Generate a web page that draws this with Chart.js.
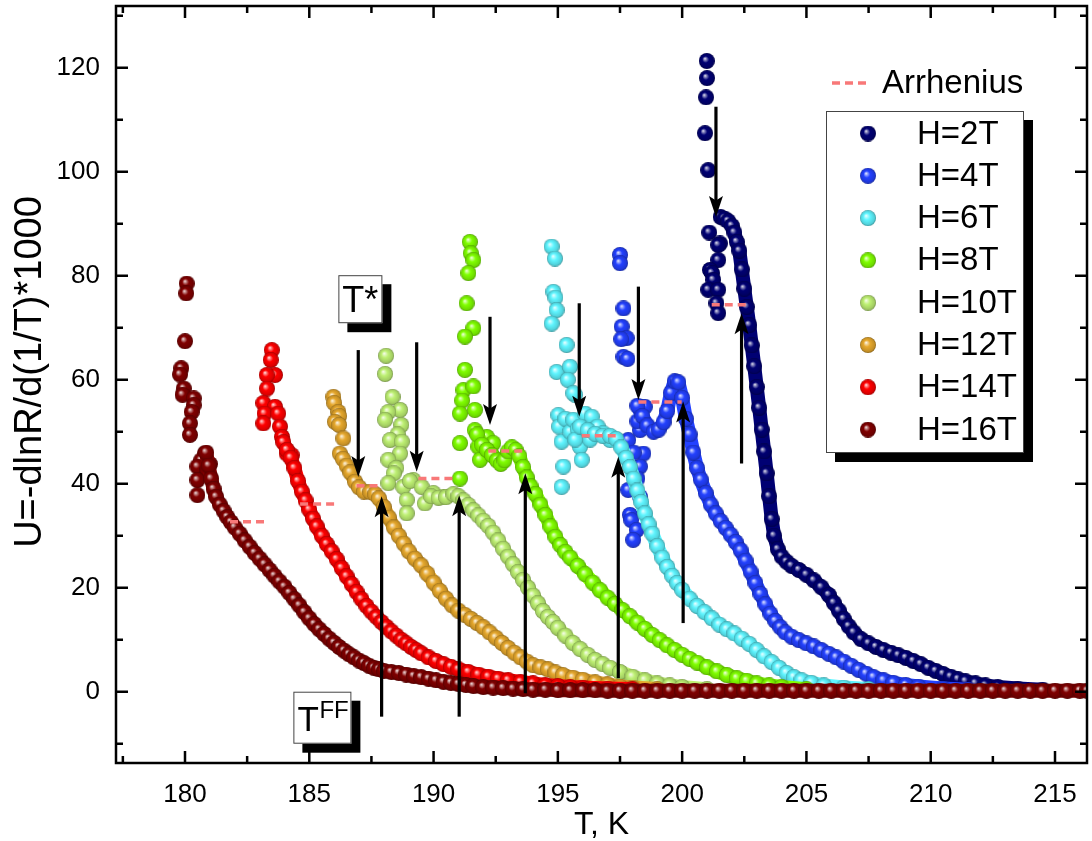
<!DOCTYPE html>
<html>
<head>
<meta charset="utf-8">
<script src="https://cdn.jsdelivr.net/npm/chart.js@4.4.1/dist/chart.umd.min.js"></script>
<style>html,body{margin:0;background:#fff}</style>
</head>
<body>
<canvas id="chart" width="1092" height="841"></canvas>
<script>
const FONT = '"Liberation Sans", Arial, sans-serif';

// axis ticks
const xTicks = [180, 185, 190, 195, 200, 205, 210, 215];
const xMinor = [177.5, 182.5, 187.5, 192.5, 197.5, 202.5, 207.5, 212.5];
const yTicks = [0, 20, 40, 60, 80, 100, 120];
const yMinor = [-10, 10, 30, 50, 70, 90, 110, 130];
const yTitle = 'U=-dlnR/d(1/T)*1000';

// H=2T  (T, U) pairs: smooth branch and scattered low-T points
const h2 = [[201.55,91.3],[201.7,91.0],[201.85,90.5],[202.0,89.6],[202.1,88.3],[202.2,86.5],[202.3,84.8],[202.4,81.2],[202.5,77.5],[202.6,74.0],[202.7,70.5],[202.8,66.6],[202.9,62.6],[203.0,58.6],[203.1,54.6],[203.2,50.4],[203.3,46.2],[203.4,42.0],[203.5,37.6],[203.6,33.2],[203.7,30.0],[203.85,27.4],[204.0,26.0],[204.2,25.0],[204.4,24.2],[204.7,23.4],[205.0,22.5],[205.3,21.4],[205.6,20.1],[205.9,18.6],[206.1,17.1],[206.3,15.6],[206.5,14.0],[206.7,12.6],[206.9,11.4],[207.2,10.1],[207.5,9.3],[207.8,8.6],[208.1,8.0],[208.4,7.5],[208.7,7.0],[209.0,6.5],[209.3,5.9],[209.6,5.3],[209.9,4.6],[210.2,4.0],[210.5,3.4],[210.8,2.9],[211.1,2.4],[211.4,2.0],[211.8,1.6],[212.2,1.2],[212.7,0.9],[213.5,0.6],[214.5,0.4]];
const h2n = [[200.99,121.3],[201.0,118.0],[200.96,114.3],[200.92,107.4],[201.05,100.3],[201.09,88.3],[201.52,86.2],[201.45,85.9],[201.45,83.0],[201.12,81.1],[201.2,80.5],[201.25,79.2],[201.05,77.3],[201.45,77.3],[201.38,74.7],[201.45,72.8]];

// H=4T
const h4 = [[198.2,55.0],[198.4,53.0],[198.6,51.2],[198.85,50.0],[199.05,50.4],[199.25,51.8],[199.4,54.0],[199.55,57.5],[199.7,59.7],[199.85,59.5],[200.0,56.5],[200.15,52.5],[200.3,49.5],[200.45,46.0],[200.6,43.0],[200.75,40.8],[200.95,38.2],[201.15,36.0],[201.35,34.3],[201.55,32.8],[201.75,31.5],[201.95,30.2],[202.15,28.8],[202.35,27.2],[202.55,25.2],[202.75,23.1],[202.95,20.9],[203.15,18.8],[203.35,16.8],[203.55,15.0],[203.75,13.6],[203.95,12.4],[204.15,11.4],[204.4,10.6],[204.7,9.9],[205.0,9.3],[205.3,8.7],[205.6,8.0],[205.9,7.3],[206.2,6.6],[206.5,5.8],[206.8,5.0],[207.1,4.2],[207.4,3.5],[207.7,2.8],[208.1,2.2],[208.5,1.7],[209.0,1.3],[209.5,1.0],[210.5,0.6],[211.5,0.4]];
const h4n = [[197.5,84.0],[197.5,82.4],[197.64,73.7],[197.57,70.2],[197.77,68.0],[197.55,67.8],[197.64,64.4],[197.8,64.0],[197.83,48.4],[198.3,50.3],[198.44,45.8],[198.3,43.3],[198.2,41.0],[198.05,46.0],[198.2,52.0],[198.35,54.8],[198.5,54.8],[197.83,38.8],[198.3,37.5],[197.9,34.0],[197.95,33.0],[198.17,31.1],[198.03,29.2]];

// H=6T
const h6 = [[195.9,51.0],[196.2,50.3],[196.5,49.6],[196.8,49.2],[197.1,49.2],[197.35,48.6],[197.55,47.0],[197.75,45.0],[197.9,43.2],[198.05,41.0],[198.2,38.7],[198.35,36.5],[198.5,34.3],[198.65,32.2],[198.8,30.4],[199.0,28.0],[199.2,25.8],[199.4,24.0],[199.6,22.3],[199.8,20.9],[200.0,19.6],[200.3,17.9],[200.6,16.5],[200.9,15.3],[201.2,14.1],[201.5,12.9],[201.8,12.0],[202.1,11.2],[202.4,10.2],[202.7,9.2],[203.0,8.0],[203.3,6.8],[203.6,5.7],[203.9,4.6],[204.2,3.6],[204.5,2.8],[204.8,2.2],[205.2,1.7],[205.7,1.2],[206.5,0.8],[207.5,0.5]];
const h6n = [[194.75,85.6],[194.88,83.3],[194.82,76.9],[194.9,75.8],[194.95,73.4],[194.75,70.8],[195.35,66.7],[194.95,61.5],[195.49,62.5],[195.4,60.0],[195.69,57.1],[195.62,57.4],[195.02,53.2],[195.05,51.0],[195.15,48.1],[195.3,52.5],[195.5,50.0],[195.62,52.3],[196.09,53.5],[196.36,52.9],[195.8,50.5],[195.89,47.1],[195.7,48.5],[196.3,48.5],[195.96,44.6],[195.22,43.3],[195.15,39.4],[196.6,51.0],[196.83,49.7],[197.1,48.4]];

// H=8T
const h8 = [[191.75,49.5],[191.95,47.5],[192.15,46.5],[192.35,45.5],[192.55,44.5],[192.7,43.8],[192.85,44.5],[193.0,46.2],[193.15,47.0],[193.3,46.5],[193.45,45.3],[193.6,43.2],[193.75,41.2],[193.9,39.5],[194.1,38.0],[194.3,36.0],[194.5,34.0],[194.7,31.8],[194.9,29.8],[195.1,28.2],[195.3,26.9],[195.5,25.8],[195.8,24.2],[196.1,22.6],[196.4,21.0],[196.7,19.5],[197.0,18.1],[197.3,16.9],[197.6,15.7],[197.9,14.5],[198.2,13.3],[198.5,12.1],[198.8,10.9],[199.1,9.9],[199.4,8.9],[199.7,8.0],[200.0,7.1],[200.3,6.3],[200.6,5.6],[201.0,4.7],[201.4,3.9],[201.8,3.2],[202.2,2.6],[202.6,2.1],[203.0,1.6],[203.5,1.2],[204.0,0.9],[205.0,0.5]];
const h8n = [[191.46,86.5],[191.5,84.3],[191.6,83.0],[191.4,80.5],[191.33,74.7],[191.6,69.9],[191.26,68.3],[191.26,61.9],[191.2,58.0],[191.6,58.7],[191.15,56.0],[191.06,53.5],[191.66,54.2],[191.06,47.8],[191.06,41.0],[191.66,50.3],[191.8,47.1],[191.87,44.6],[192.14,49.0],[192.4,47.8]];

// H=10T
const h10 = [[189.9,37.6],[190.2,37.3],[190.5,37.4],[190.8,38.0],[191.0,37.6],[191.2,36.8],[191.4,35.9],[191.6,34.9],[191.8,33.9],[192.0,32.9],[192.2,31.9],[192.4,30.6],[192.6,29.1],[192.8,27.5],[193.0,26.0],[193.2,24.5],[193.4,23.0],[193.6,21.5],[193.8,20.0],[194.0,18.5],[194.2,17.0],[194.4,15.5],[194.6,14.4],[194.8,13.4],[195.0,12.3],[195.3,10.8],[195.6,9.4],[195.9,8.2],[196.2,7.1],[196.5,6.1],[196.8,5.3],[197.1,4.6],[197.5,3.8],[198.0,2.9],[198.5,2.2],[199.0,1.6],[199.5,1.2],[200.0,0.9],[201.0,0.5]];
const h10n = [[188.09,64.6],[188.05,61.1],[188.35,56.7],[188.65,54.2],[188.18,53.8],[188.05,52.3],[188.7,51.3],[188.55,49.5],[188.25,48.4],[188.72,48.1],[188.65,45.8],[188.18,44.6],[188.5,43.0],[188.4,42.0],[188.18,40.1],[188.78,39.4],[189.18,40.7],[189.05,40.5],[188.92,36.9],[188.92,34.3],[189.52,39.4],[189.65,36.2],[189.99,38.2],[190.39,37.5]];

// H=12T
const h12 = [[186.23,45.8],[186.35,44.8],[186.5,43.5],[186.65,42.2],[186.84,40.4],[187.0,39.3],[187.2,38.5],[187.45,38.4],[187.65,38.0],[187.8,37.2],[188.0,35.5],[188.2,33.5],[188.4,31.6],[188.6,30.0],[188.8,28.5],[189.0,27.0],[189.25,25.6],[189.5,24.3],[189.75,22.7],[190.0,21.0],[190.25,19.4],[190.5,17.9],[190.75,16.6],[191.0,15.6],[191.25,14.8],[191.5,14.0],[191.75,13.2],[192.0,12.4],[192.25,11.4],[192.5,10.4],[192.75,9.4],[193.0,8.4],[193.25,7.5],[193.5,6.6],[193.75,5.8],[194.0,5.1],[194.3,4.7],[194.6,4.3],[194.9,3.7],[195.2,3.2],[195.6,2.7],[196.0,2.3],[196.5,1.8],[197.0,1.4],[197.5,1.0],[198.0,0.8],[199.0,0.5]];
const h12n = [[185.97,56.7],[186.0,55.5],[186.17,53.8],[186.2,53.0],[186.03,51.9],[186.2,51.3],[186.37,48.7]];

// H=14T
const h14 = [[183.95,48.0],[184.1,46.5],[184.25,45.0],[184.4,43.0],[184.55,40.5],[184.7,38.5],[184.85,36.8],[185.0,35.0],[185.15,33.3],[185.3,31.8],[185.5,30.0],[185.7,28.4],[185.9,27.0],[186.1,25.5],[186.3,23.8],[186.5,22.2],[186.7,20.7],[186.9,19.2],[187.1,17.8],[187.3,16.5],[187.5,15.4],[187.7,14.4],[187.9,13.4],[188.1,12.5],[188.3,11.6],[188.5,10.8],[188.7,10.0],[188.9,9.3],[189.1,8.6],[189.3,8.0],[189.5,7.4],[189.8,6.6],[190.1,5.9],[190.4,5.3],[190.7,4.8],[191.0,4.3],[191.4,3.8],[191.8,3.3],[192.2,2.9],[192.6,2.5],[193.0,2.2],[193.5,1.9],[194.0,1.6],[194.5,1.3],[195.0,1.1],[195.5,0.9],[196.0,0.8],[197.0,0.6],[198.0,0.5]];
const h14n = [[183.49,65.7],[183.45,63.8],[183.62,60.9],[183.29,60.9],[183.3,58.3],[183.15,55.5],[183.62,54.8],[183.2,53.5],[183.75,53.5],[183.15,51.6],[183.82,51.0],[183.9,49.0],[184.09,45.8],[184.29,45.5]];

// H=16T
const h16 = [[180.85,46.0],[180.95,43.5],[181.05,41.0],[181.15,39.0],[181.25,37.5],[181.4,36.0],[181.55,34.8],[181.7,33.6],[181.85,32.6],[182.0,31.6],[182.2,30.4],[182.4,29.1],[182.6,27.9],[182.8,26.7],[183.0,25.6],[183.2,24.5],[183.4,23.4],[183.6,22.3],[183.8,21.2],[184.0,20.2],[184.2,19.0],[184.4,17.8],[184.6,16.6],[184.8,15.3],[185.0,14.1],[185.2,13.0],[185.4,12.0],[185.6,11.1],[185.8,10.2],[186.0,9.4],[186.2,8.6],[186.4,7.9],[186.6,7.2],[186.8,6.6],[187.0,6.0],[187.2,5.5],[187.4,5.0],[187.6,4.6],[187.8,4.3],[188.0,4.0],[188.3,3.8],[188.6,3.6],[188.9,3.3],[189.2,3.0],[189.5,2.8],[189.8,2.5],[190.1,2.2],[190.4,1.9],[190.7,1.7],[191.0,1.5],[191.3,1.3],[191.6,1.1],[192.0,0.9],[192.4,0.8],[192.8,0.7],[193.2,0.6],[193.6,0.5],[194.0,0.4],[194.5,0.4],[195.0,0.3],[195.5,0.3],[196.0,0.3],[196.5,0.3],[197.0,0.2],[197.5,0.2],[198.0,0.2],[198.5,0.2],[199.0,0.2],[199.5,0.2],[200.0,0.2],[200.5,0.2],[201.0,0.2],[201.5,0.2],[202.0,0.2],[202.5,0.2],[203.0,0.2],[203.5,0.2],[204.0,0.2],[204.5,0.2],[205.0,0.2],[205.5,0.2],[206.0,0.2],[206.5,0.2],[207.0,0.2],[207.5,0.2],[208.0,0.2],[208.5,0.2],[209.0,0.2],[209.5,0.2],[210.0,0.2],[210.5,0.2],[211.0,0.2],[211.5,0.2],[212.0,0.2],[212.5,0.2],[213.0,0.2],[213.5,0.2],[214.0,0.2],[214.5,0.2],[215.0,0.2],[215.5,0.2],[216.0,0.2],[216.3,0.2]];
const h16n = [[180.07,78.5],[180.05,76.6],[180.0,67.4],[179.85,62.2],[179.8,61.0],[179.95,58.3],[179.9,57.1],[180.35,56.4],[180.35,55.1],[180.27,53.8],[180.2,51.6],[180.2,49.4],[180.8,45.8],[180.65,44.5],[180.5,43.3],[181.0,43.8],[180.9,42.5],[180.5,40.7],[180.5,37.8]];

// Arrhenius fits: [T from, T to, U]
const arrhenius = [[181.81,183.29,32.7],[184.63,186.03,36.1],[186.9,187.9,39.6],[189.39,190.87,41.0],[192.2,193.72,46.3],[195.96,197.43,49.2],[198.24,199.98,55.7],[201.19,202.73,74.4]];
// T* arrows (from above): [T, U start, U tip];  T^FF arrows (from below)
const tStar = [[186.97,65.7,41.3],[189.32,67.2,42.3],[192.27,72.1,51.3],[195.86,74.7,52.9],[198.24,77.9,56.1],[201.36,112.5,91.3]];
const tFF = [[187.91,-4.8,37.6],[191.03,-4.8,37.8],[193.69,-0.3,42.0],[197.43,2.6,45.2],[200.04,13.2,55.8],[202.39,43.9,72.8]];

const fields = [
  {label: 'H=2T',  color: [0, 0, 115],     smooth: h2,  noisy: h2n},
  {label: 'H=4T',  color: [35, 65, 255],   smooth: h4,  noisy: h4n},
  {label: 'H=6T',  color: [95, 245, 255],  smooth: h6,  noisy: h6n},
  {label: 'H=8T',  color: [128, 255, 0],   smooth: h8,  noisy: h8n},
  {label: 'H=10T', color: [190, 240, 115], smooth: h10, noisy: h10n},
  {label: 'H=12T', color: [230, 168, 45],  smooth: h12, noisy: h12n},
  {label: 'H=14T', color: [255, 0, 0],     smooth: h14, noisy: h14n},
  {label: 'H=16T', color: [128, 0, 0],     smooth: h16, noisy: h16n}
];

function rgb(c, f) {
  f = f === undefined ? 1 : f;
  return 'rgb(' + c.map(v => Math.round(v * f)).join(',') + ')';
}
function tint(c, t) {
  return 'rgb(' + c.map(v => Math.round(v + (255 - v) * t)).join(',') + ')';
}

// shaded ball used as point style
function ball(c) {
  const cv = document.createElement('canvas');
  cv.width = 16; cv.height = 16;
  const g = cv.getContext('2d');
  const grad = g.createRadialGradient(6, 5.5, 0, 8, 8, 8);
  grad.addColorStop(0, tint(c, 0.95));
  grad.addColorStop(0.16, tint(c, 0.55));
  grad.addColorStop(0.42, rgb(c));
  grad.addColorStop(0.85, rgb(c, 0.85));
  grad.addColorStop(1, rgb(c, 0.6));
  g.fillStyle = grad;
  g.beginPath();
  g.arc(8, 8, 8, 0, Math.PI * 2);
  g.fill();
  return cv;
}

const toXY = arr => arr.map(p => ({x: p[0], y: p[1]}));
const datasets = [];
fields.forEach((f, i) => {
  f.img = ball(f.color);
  datasets.push({
    label: f.label, data: toXY(f.smooth), showLine: true,
    borderColor: rgb(f.color), borderWidth: 14,
    borderJoinStyle: 'round', borderCapStyle: 'round',
    pointStyle: f.img, pointRadius: 7, order: 8 - i, clip: 0
  });
  datasets.push({
    label: f.label, data: toXY(f.noisy), showLine: false,
    pointStyle: f.img, pointRadius: 7, order: 8 - i, clip: 0
  });
});
arrhenius.forEach(a => {
  datasets.push({
    label: 'Arrhenius', data: [{x: a[0], y: a[2]}, {x: a[1], y: a[2]}],
    showLine: true, borderColor: '#f87878', borderWidth: 3.5,
    borderDash: [8, 5], pointRadius: 0, order: 0
  });
});

function arrow(ctx, px, y0, y1) {
  const dir = Math.sign(y1 - y0), head = 21, hw = 7;
  ctx.beginPath();
  ctx.moveTo(px, y0);
  ctx.lineTo(px, y1 - dir * head * 0.7);
  ctx.stroke();
  ctx.beginPath();
  ctx.moveTo(px, y1);
  ctx.lineTo(px - hw, y1 - dir * head);
  ctx.lineTo(px, y1 - dir * head * 0.78);
  ctx.lineTo(px + hw, y1 - dir * head);
  ctx.closePath();
  ctx.fill();
}

function shadowBox(ctx, x, y, w, h, off) {
  ctx.fillStyle = '#000';
  ctx.fillRect(x + off, y + off, w, h);
  ctx.fillStyle = '#fff';
  ctx.fillRect(x, y, w, h);
  ctx.strokeStyle = '#444';
  ctx.lineWidth = 1;
  ctx.strokeRect(x + 0.5, y + 0.5, w - 1, h - 1);
}

const decorations = {
  id: 'decorations',
  afterDatasetsDraw(chart) {
    const {ctx, chartArea: a, scales: {x, y}} = chart;
    ctx.save();
    // arrows
    ctx.strokeStyle = '#000';
    ctx.fillStyle = '#000';
    ctx.lineWidth = 3.2;
    tStar.concat(tFF).forEach(r => arrow(ctx, x.getPixelForValue(r[0]), y.getPixelForValue(r[1]), y.getPixelForValue(r[2])));

    // frame + inward ticks on all sides
    ctx.lineWidth = 2.5;
    ctx.strokeStyle = '#000';
    ctx.beginPath();
    const tick = (vals, len, horiz) => vals.forEach(v => {
      if (horiz) {
        const px = x.getPixelForValue(v);
        ctx.moveTo(px, a.bottom); ctx.lineTo(px, a.bottom - len);
        ctx.moveTo(px, a.top); ctx.lineTo(px, a.top + len);
      } else {
        const py = y.getPixelForValue(v);
        ctx.moveTo(a.left, py); ctx.lineTo(a.left + len, py);
        ctx.moveTo(a.right, py); ctx.lineTo(a.right - len, py);
      }
    });
    tick(xTicks, 12, true); tick(xMinor, 7, true);
    tick(yTicks, 12, false); tick(yMinor, 7, false);
    ctx.stroke();
    ctx.strokeRect(a.left, a.top, a.right - a.left, a.bottom - a.top);

    // y axis title
    ctx.save();
    ctx.translate(31, 372);
    ctx.rotate(-Math.PI / 2);
    ctx.fillStyle = '#000';
    ctx.font = '38px ' + FONT;
    ctx.textAlign = 'center';
    ctx.textBaseline = 'middle';
    ctx.fillText(yTitle, 0, 0);
    ctx.restore();

    // T* label
    let bx = x.getPixelForValue(186.17), by = y.getPixelForValue(80.1);
    shadowBox(ctx, bx, by, 44, 48, 9);
    ctx.fillStyle = '#000';
    ctx.textBaseline = 'alphabetic';
    ctx.textAlign = 'left';
    ctx.font = '36px ' + FONT;
    ctx.fillText('T*', bx + 4, by + 37);

    // T^FF label
    bx = x.getPixelForValue(184.36); by = y.getPixelForValue(0);
    shadowBox(ctx, bx, by, 58, 52, 9);
    ctx.fillStyle = '#000';
    ctx.font = '35px ' + FONT;
    ctx.fillText('T', bx + 4, by + 39);
    ctx.font = '24px ' + FONT;
    ctx.fillText('FF', bx + 26, by + 26);

    // legend
    ctx.strokeStyle = '#f87878';
    ctx.lineWidth = 3.5;
    ctx.setLineDash([8, 5]);
    ctx.beginPath(); ctx.moveTo(832, 83); ctx.lineTo(871, 83); ctx.stroke();
    ctx.setLineDash([]);
    ctx.fillStyle = '#000';
    ctx.font = '33px ' + FONT;
    ctx.textBaseline = 'middle';
    ctx.fillText('Arrhenius', 882, 84);
    shadowBox(ctx, 826, 111, 198, 342, 9);
    fields.forEach((f, i) => {
      const ry = 133.5 + i * 42.3;
      ctx.drawImage(f.img, 868 - 8, ry - 8);
      ctx.fillStyle = '#000';
      ctx.fillText(f.label, 917, ry + 1);
    });
    ctx.restore();
  }
};

new Chart(document.getElementById('chart'), {
  type: 'scatter',
  data: {datasets},
  options: {
    responsive: false,
    animation: false,
    layout: {autoPadding: false, padding: {top: 6, right: 5, left: 0, bottom: 0}},
    plugins: {legend: {display: false}, tooltip: {enabled: false}},
    scales: {
      x: {
        type: 'linear', min: 177.224, max: 216.287,
        afterBuildTicks: s => { s.ticks = xTicks.map(v => ({value: v})); },
        afterFit: s => { s.height = 78; s.paddingLeft = 0; s.paddingRight = 0; },
        grid: {display: false, drawTicks: false},
        border: {display: false},
        ticks: {color: '#000', font: {family: FONT, size: 26}, padding: 16, maxRotation: 0},
        title: {display: true, text: 'T, K', color: '#000', font: {family: FONT, size: 32, lineHeight: 1}, padding: {top: 1, bottom: 0}}
      },
      y: {
        type: 'linear', min: -13.71, max: 131.87,
        afterBuildTicks: s => { s.ticks = yTicks.map(v => ({value: v})); },
        afterFit: s => { s.width = 116; s.paddingTop = 0; s.paddingBottom = 0; },
        grid: {display: false, drawTicks: false},
        border: {display: false},
        ticks: {color: '#000', font: {family: FONT, size: 26}, padding: 16},
        title: {display: false}
      }
    }
  },
  plugins: [decorations]
});
</script>
</body>
</html>
